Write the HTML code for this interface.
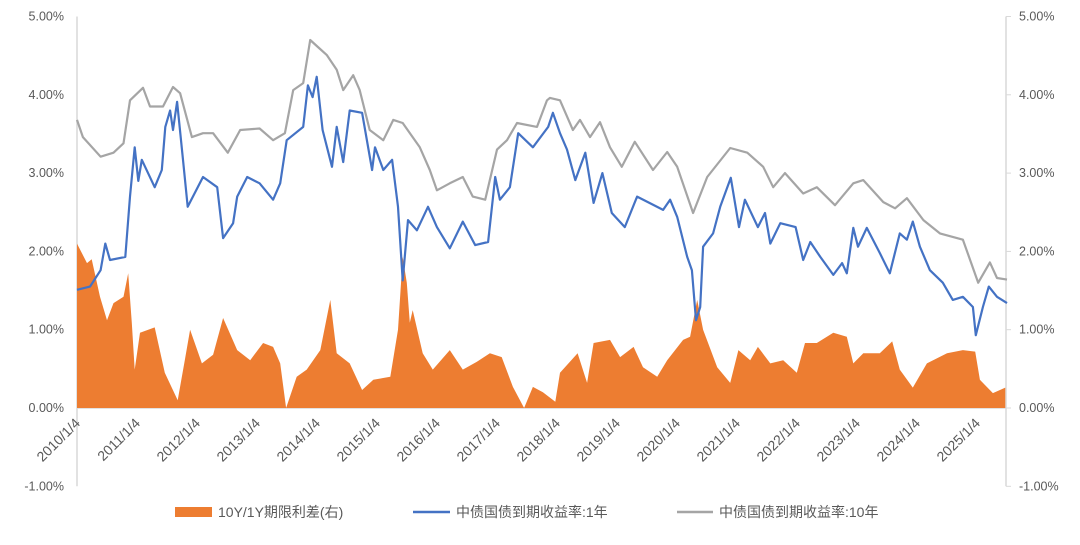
<!DOCTYPE html>
<html><head><meta charset="utf-8">
<style>
body{margin:0;background:#fff;}
svg text{font-family:"Liberation Sans","Noto Sans CJK SC",sans-serif;fill:#595959;}
</style></head>
<body>
<svg id="chart" width="1080" height="540" xmlns="http://www.w3.org/2000/svg">
<g id="axes"></g>
<g id="spreadG"></g>
<g id="linesG"></g>
<g id="labelsG"></g>
<g>
  <rect x="175" y="507" width="37" height="10" fill="#ED7D31"/>
  <text x="218" y="517" font-size="14">10Y/1Y期限利差(右)</text>
  <line x1="413" y1="512" x2="450" y2="512" stroke="#4472C4" stroke-width="2.5"/>
  <text x="456" y="517" font-size="14">中债国债到期收益率:1年</text>
  <line x1="677" y1="512" x2="713" y2="512" stroke="#A5A5A5" stroke-width="2.5"/>
  <text x="719" y="517" font-size="14">中债国债到期收益率:10年</text>
</g>
</svg>
<script>
const yTicks=[5,4,3,2,1,0,-1];
const yearLabels=["2010/1/4","2011/1/4","2012/1/4","2013/1/4","2014/1/4","2015/1/4","2016/1/4","2017/1/4","2018/1/4","2019/1/4","2020/1/4","2021/1/4","2022/1/4","2023/1/4","2024/1/4","2025/1/4"];
const t1y=[2010.0,2010.22,2010.4,2010.48,2010.56,2010.82,2010.9,2010.98,2011.04,2011.1,2011.32,2011.44,2011.5,2011.58,2011.63,2011.7,2011.8,2011.88,2012.14,2012.38,2012.48,2012.65,2012.72,2012.89,2013.1,2013.33,2013.45,2013.56,2013.84,2013.92,2014.0,2014.07,2014.17,2014.33,2014.41,2014.52,2014.63,2014.84,2015.01,2015.06,2015.2,2015.35,2015.45,2015.53,2015.62,2015.77,2015.96,2016.11,2016.33,2016.55,2016.76,2016.98,2017.1,2017.18,2017.35,2017.49,2017.74,2018.0,2018.08,2018.2,2018.32,2018.46,2018.63,2018.77,2018.92,2019.08,2019.3,2019.51,2019.95,2020.07,2020.19,2020.36,2020.44,2020.51,2020.58,2020.63,2020.8,2020.92,2021.1,2021.24,2021.34,2021.56,2021.68,2021.77,2021.94,2022.2,2022.33,2022.45,2022.62,2022.84,2022.99,2023.07,2023.18,2023.26,2023.41,2023.63,2023.8,2023.97,2024.09,2024.19,2024.31,2024.48,2024.7,2024.87,2025.04,2025.21,2025.26,2025.38,2025.48,2025.62,2025.79];
const y1y=[1.51,1.55,1.76,2.1,1.89,1.93,2.7,3.33,2.9,3.17,2.82,3.04,3.59,3.8,3.55,3.91,3.17,2.57,2.95,2.82,2.17,2.36,2.7,2.95,2.87,2.66,2.87,3.42,3.59,4.12,3.97,4.23,3.55,3.08,3.59,3.14,3.8,3.77,3.04,3.33,3.04,3.17,2.57,1.63,2.4,2.27,2.57,2.31,2.04,2.38,2.08,2.12,2.95,2.66,2.82,3.51,3.33,3.59,3.77,3.51,3.3,2.91,3.26,2.62,3.0,2.49,2.31,2.7,2.53,2.66,2.44,1.93,1.76,1.12,1.29,2.06,2.23,2.57,2.94,2.31,2.66,2.31,2.49,2.1,2.36,2.31,1.89,2.12,1.93,1.7,1.85,1.72,2.3,2.06,2.3,1.98,1.72,2.23,2.15,2.38,2.06,1.76,1.6,1.38,1.42,1.29,0.93,1.29,1.55,1.42,1.34];
const t10y=[2010.0,2010.1,2010.4,2010.62,2010.79,2010.9,2011.12,2011.24,2011.46,2011.63,2011.75,2011.95,2012.14,2012.31,2012.56,2012.77,2013.1,2013.33,2013.53,2013.67,2013.84,2013.96,2014.09,2014.24,2014.41,2014.52,2014.69,2014.8,2014.97,2015.2,2015.37,2015.53,2015.82,2015.99,2016.11,2016.33,2016.55,2016.72,2016.93,2017.13,2017.3,2017.47,2017.81,2017.98,2018.03,2018.2,2018.42,2018.54,2018.71,2018.88,2019.05,2019.25,2019.47,2019.78,2020.02,2020.19,2020.46,2020.7,2021.09,2021.38,2021.65,2021.82,2022.02,2022.33,2022.56,2022.87,2023.18,2023.35,2023.69,2023.89,2024.09,2024.37,2024.65,2025.04,2025.3,2025.5,2025.62,2025.79];
const y10y=[3.68,3.46,3.21,3.26,3.38,3.93,4.09,3.85,3.85,4.1,4.02,3.46,3.51,3.51,3.26,3.55,3.57,3.42,3.51,4.06,4.15,4.7,4.61,4.51,4.32,4.06,4.25,4.06,3.55,3.42,3.68,3.64,3.33,3.04,2.78,2.87,2.95,2.7,2.66,3.3,3.42,3.64,3.59,3.93,3.96,3.93,3.55,3.68,3.46,3.65,3.33,3.08,3.4,3.04,3.27,3.08,2.49,2.95,3.32,3.26,3.08,2.82,3.0,2.74,2.82,2.59,2.87,2.91,2.63,2.55,2.68,2.4,2.23,2.15,1.6,1.86,1.66,1.64];
const tSpread=[2010.0,2010.17,2010.25,2010.39,2010.51,2010.62,2010.79,2010.87,2010.93,2010.98,2011.07,2011.32,2011.49,2011.71,2011.83,2011.92,2012.12,2012.31,2012.48,2012.72,2012.94,2013.16,2013.33,2013.45,2013.55,2013.73,2013.9,2014.13,2014.3,2014.41,2014.63,2014.84,2015.03,2015.32,2015.45,2015.53,2015.6,2015.65,2015.7,2015.87,2016.04,2016.33,2016.55,2016.79,2017.01,2017.21,2017.4,2017.59,2017.74,2017.91,2018.12,2018.2,2018.5,2018.66,2018.77,2019.05,2019.22,2019.45,2019.61,2019.85,2020.02,2020.29,2020.41,2020.53,2020.63,2020.87,2021.09,2021.23,2021.43,2021.56,2021.77,2021.99,2022.22,2022.36,2022.56,2022.84,2023.07,2023.18,2023.35,2023.63,2023.84,2023.97,2024.19,2024.43,2024.77,2025.04,2025.25,2025.33,2025.55,2025.76];
const ySpread=[2.1,1.85,1.9,1.42,1.12,1.34,1.42,1.72,1.09,0.49,0.96,1.03,0.45,0.1,0.61,1.0,0.57,0.68,1.15,0.74,0.61,0.83,0.78,0.57,0,0.4,0.49,0.74,1.38,0.7,0.57,0.23,0.36,0.4,1.0,1.93,1.6,1.09,1.25,0.7,0.49,0.74,0.49,0.59,0.7,0.65,0.27,0,0.27,0.2,0.08,0.45,0.7,0.32,0.83,0.87,0.65,0.78,0.52,0.4,0.61,0.87,0.91,1.38,1.0,0.52,0.32,0.74,0.61,0.78,0.57,0.61,0.45,0.83,0.83,0.96,0.91,0.57,0.7,0.7,0.85,0.49,0.26,0.57,0.7,0.74,0.72,0.36,0.19,0.26];

const NS="http://www.w3.org/2000/svg";
const X0=77,PXY=58.9,Y0=408,PXV=78.3;
function xS(t){return X0+(t-2010)*PXY;}
function yS(v){return Y0-v*PXV;}
function mk(tag,attrs,parent){const e=document.createElementNS(NS,tag);for(const k in attrs)e.setAttribute(k,attrs[k]);parent.appendChild(e);return e;}
const axes=document.getElementById('axes'),labelsG=document.getElementById('labelsG');
let la=mk('line',{x1:77,y1:yS(5),x2:77,y2:yS(-1),stroke:'#D9D9D9','stroke-width':1.5},axes);


let ra=mk('line',{x1:1006,y1:yS(5),x2:1006,y2:yS(-1),stroke:'#D9D9D9','stroke-width':1.5},axes);


let xa=mk('line',{x1:77,y1:Y0,x2:1006,y2:Y0,stroke:'#D9D9D9','stroke-width':1.5},axes);


yTicks.forEach(v=>{
  const tk=mk('line',{x1:1006,y1:yS(v),x2:1011,y2:yS(v),stroke:'#D9D9D9','stroke-width':1},axes);
  
  
  const lt=mk('text',{x:64,y:yS(v)+4,'text-anchor':'end','font-size':12.5},labelsG);
  lt.textContent=v.toFixed(2)+'%';
  
  
  const rt=mk('text',{x:1019,y:yS(v)+4,'text-anchor':'start','font-size':12.5},labelsG);
  rt.textContent=v.toFixed(2)+'%';
  
  
});
yearLabels.forEach((s,i)=>{
  const lx=81+60*i, ly=424;
  const t=mk('text',{x:lx,y:ly,'text-anchor':'end','font-size':14,transform:`rotate(-45 ${lx} ${ly})`},labelsG);
  t.textContent=s;
  
  
});
let d='M'+xS(tSpread[0]).toFixed(1)+','+Y0;
tSpread.forEach((t,i)=>{d+=' L'+xS(t).toFixed(1)+','+yS(ySpread[i]).toFixed(1);});
d+=' L'+xS(tSpread[tSpread.length-1]).toFixed(1)+','+Y0+' Z';
const area=mk('path',{d:d,fill:'#ED7D31',stroke:'none'},document.getElementById('spreadG'));


function line(ts,vs,col,name){
  const pts=ts.map((t,i)=>xS(t).toFixed(1)+','+yS(vs[i]).toFixed(1)).join(' ');
  const p=mk('polyline',{points:pts,fill:'none',stroke:col,'stroke-width':2.2,'stroke-linejoin':'round'},document.getElementById('linesG'));
  
  
}
line(t10y,y10y,'#A5A5A5','line-10y-yield');
line(t1y,y1y,'#4472C4','line-1y-yield');
</script>
</body></html>
